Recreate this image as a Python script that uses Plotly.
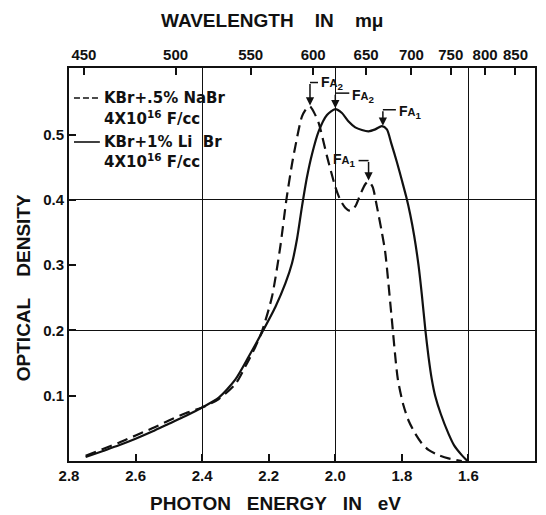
import numpy as np
import plotly.graph_objects as go

# ---------------- data ----------------
# KBr + 1% LiBr (solid)
E_SOLID = [2.75, 2.70, 2.65, 2.60, 2.55, 2.50, 2.45, 2.40, 2.35, 2.30, 2.26, 2.22,
           2.18, 2.15, 2.13, 2.115, 2.10, 2.085, 2.07, 2.05, 2.025, 2.00, 1.98, 1.96,
           1.94, 1.92, 1.90, 1.88, 1.86, 1.845, 1.832, 1.815, 1.80, 1.787, 1.775, 1.763,
           1.75, 1.74, 1.729, 1.72, 1.71, 1.70, 1.683, 1.66, 1.643, 1.62, 1.603]
OD_SOLID = [0.006, 0.015, 0.024, 0.034, 0.045, 0.057, 0.069, 0.082, 0.097, 0.125, 0.160, 0.197,
            0.236, 0.272, 0.303, 0.340, 0.390, 0.435, 0.470, 0.505, 0.530, 0.539, 0.533, 0.520,
            0.511, 0.507, 0.505, 0.508, 0.513, 0.508, 0.487, 0.458, 0.430, 0.405, 0.378, 0.345,
            0.300, 0.255, 0.199, 0.160, 0.125, 0.100, 0.072, 0.042, 0.024, 0.009, 0.0]

# KBr + .5% NaBr (dashed)
E_DASH = [2.75, 2.70, 2.65, 2.60, 2.55, 2.50, 2.45, 2.40, 2.35, 2.30, 2.27, 2.24, 2.22,
          2.19, 2.165, 2.147, 2.13, 2.12, 2.10, 2.085, 2.076, 2.065, 2.05, 2.025, 2.00,
          1.985, 1.97, 1.955, 1.94, 1.925, 1.91, 1.90, 1.888, 1.875, 1.86, 1.85, 1.832,
          1.812, 1.795, 1.78, 1.76, 1.74, 1.72, 1.69, 1.66, 1.62]
OD_DASH = [0.008, 0.018, 0.028, 0.039, 0.050, 0.062, 0.073, 0.082, 0.095, 0.118, 0.145, 0.175, 0.199,
           0.252, 0.329, 0.400, 0.455, 0.482, 0.528, 0.541, 0.543, 0.535, 0.518, 0.467, 0.420,
           0.400, 0.388, 0.383, 0.390, 0.408, 0.424, 0.428, 0.420, 0.390, 0.350, 0.320, 0.227,
           0.125, 0.085, 0.062, 0.042, 0.027, 0.017, 0.009, 0.004, 0.0]

# axes
E_RANGE = [2.8, 1.4]
E_TICKS = [2.8, 2.6, 2.4, 2.2, 2.0, 1.8, 1.6, 1.4]
E_LABELS = ["2.8", "2.6", "2.4", "2.2", "2.0", "1.8", "1.6", "1.4"]
GRID_E = [2.4, 2.0, 1.6]
OD_RANGE = [0, 0.602]
OD_TICKS = [0.1, 0.2, 0.3, 0.4, 0.5]
OD_LABELS = ["0.1", "0.2", "0.3", "0.4", "0.5"]
GRID_OD = [0.2, 0.4]
WAVELENGTHS = [450, 500, 550, 600, 650, 700, 750, 800, 850]
WL_LABELS = [str(w) for w in WAVELENGTHS]
HC = 1239.84  # eV*nm

# FA band markers: (series, energy, subscript, arm px, rise px, text vertical offset px)
FA_MARKS = [
    ("dash", 2.076, "2", 8, 24, 0),
    ("solid", 2.00, "2", 14, 16, -3),
    ("solid", 1.857, "1", 13, 17, -2),
    ("dash", 1.90, "1", -10, 21, 1),
]

FONT = "Liberation Sans"
LFONT = "DejaVu Sans"
BLACK = "#111111"

fig = go.Figure()
fig.add_trace(go.Scatter(x=E_DASH, y=OD_DASH, mode="lines",
                         line=dict(color=BLACK, width=2.2, dash="11px,6px", shape="spline", smoothing=0.7),
                         showlegend=False, hoverinfo="skip"))
fig.add_trace(go.Scatter(x=E_SOLID, y=OD_SOLID, mode="lines",
                         line=dict(color=BLACK, width=2.2, shape="spline", smoothing=0.7),
                         showlegend=False, hoverinfo="skip"))
# dummy traces to instantiate overlay axes
fig.add_trace(go.Scatter(x=[None], y=[None], xaxis="x2", yaxis="y", showlegend=False, hoverinfo="skip"))
fig.add_trace(go.Scatter(x=[None], y=[None], xaxis="x3", yaxis="y2", showlegend=False, hoverinfo="skip"))

tickfont = dict(family=FONT, size=15, color=BLACK, weight="bold")

fig.update_layout(
    width=546, height=515, autosize=False,
    margin=dict(l=69, r=9, t=68, b=54),
    paper_bgcolor="white", plot_bgcolor="white",
    xaxis=dict(range=E_RANGE, tickvals=E_TICKS, ticktext=E_LABELS, ticks="inside", ticklen=7,
               tickwidth=1.5, tickcolor=BLACK, showline=True, linewidth=1.8, linecolor=BLACK,
               showgrid=False, zeroline=False, tickfont=tickfont, fixedrange=True),
    xaxis2=dict(range=E_RANGE, overlaying="x", side="top", anchor="y",
                tickvals=[HC / w for w in WAVELENGTHS], ticktext=WL_LABELS,
                ticks="inside", ticklen=7, tickwidth=1.5, tickcolor=BLACK,
                showline=True, linewidth=1.8, linecolor=BLACK, showgrid=False, zeroline=False,
                tickfont=tickfont, fixedrange=True),
    xaxis3=dict(range=E_RANGE, overlaying="x", anchor="y2", tickvals=GRID_E, showgrid=True,
                gridcolor=BLACK, gridwidth=1.2, showticklabels=False, ticks="", showline=False,
                zeroline=False, fixedrange=True),
    yaxis=dict(range=OD_RANGE, tickvals=OD_TICKS, ticktext=OD_LABELS, ticks="inside", ticklen=7,
               tickwidth=1.5, tickcolor=BLACK, showline=True, mirror=True, linewidth=1.8,
               linecolor=BLACK, showgrid=False, zeroline=False, tickfont=tickfont, fixedrange=True),
    yaxis2=dict(range=OD_RANGE, overlaying="y", anchor="x3", tickvals=GRID_OD, showgrid=True,
                gridcolor=BLACK, gridwidth=1.2, showticklabels=False, ticks="", showline=False,
                zeroline=False, fixedrange=True),
)

annotations = []
shapes = []

# FA markers
series = {"dash": (E_DASH, OD_DASH), "solid": (E_SOLID, OD_SOLID)}
for name, e, sub, arm, rise, dy in FA_MARKS:
    ex, oy = series[name]
    od = float(np.interp(e, ex[::-1], oy[::-1]))
    annotations.append(dict(x=e, y=od, xref="x", yref="y", ax=0, ay=-rise, text="",
                            showarrow=True, arrowhead=2, arrowsize=1.1, arrowwidth=1.5,
                            arrowcolor=BLACK, standoff=1))
    shapes.append(dict(type="line", xref="x", yref="y", xsizemode="pixel", ysizemode="pixel",
                       xanchor=e, yanchor=od, x0=0, x1=arm, y0=rise, y1=rise,
                       line=dict(color=BLACK, width=1.5)))
    annotations.append(dict(x=e, y=od, xref="x", yref="y", showarrow=False,
                            xanchor="left" if arm > 0 else "right", yanchor="middle",
                            xshift=arm + (1 if arm > 0 else -1), yshift=rise + dy,
                            text="F<span style='font-size:11px'>A</span><sub>" + sub + "</sub>",
                            font=dict(family=FONT, size=14, color=BLACK, weight="bold")))

# legend (drawn manually)
def px2paper_x(px):
    return (px - 69) / 468.0

def py2paper_y(py):
    return (461.0 - py) / 393.0

legfont = dict(family=LFONT, size=15, color=BLACK, weight="bold")
shapes.append(dict(type="line", xref="paper", yref="paper", x0=px2paper_x(74), x1=px2paper_x(100),
                   y0=py2paper_y(98), y1=py2paper_y(98), line=dict(color=BLACK, width=1.6, dash="6px,3px")))
shapes.append(dict(type="line", xref="paper", yref="paper", x0=px2paper_x(74), x1=px2paper_x(100),
                   y0=py2paper_y(142), y1=py2paper_y(142), line=dict(color=BLACK, width=1.6)))
for py, txt in [(98, "KBr+.5% NaBr"), (118, "4X10<sup>16</sup> F/cc"),
                (142, "KBr+1% Li\u00a0\u00a0Br"), (161, "4X10<sup>16</sup> F/cc")]:
    annotations.append(dict(x=px2paper_x(102), y=py2paper_y(py), xref="paper", yref="paper",
                            xanchor="left", yanchor="middle", showarrow=False, text=txt, font=legfont))

# axis titles
sp = "\u00a0\u00a0\u00a0\u00a0"
annotations.append(dict(x=px2paper_x(273), y=py2paper_y(21), xref="paper", yref="paper",
                        xanchor="center", yanchor="middle",
                        showarrow=False, text="WAVELENGTH" + sp + "IN" + sp + "m\u03bc",
                        font=dict(family=FONT, size=19, color=BLACK, weight="bold")))
annotations.append(dict(x=px2paper_x(276), y=py2paper_y(504), xref="paper", yref="paper",
                        xanchor="center", yanchor="middle",
                        showarrow=False, text="PHOTON\u00a0\u00a0\u00a0ENERGY\u00a0\u00a0\u00a0IN\u00a0\u00a0\u00a0eV",
                        font=dict(family=FONT, size=19, color=BLACK, weight="bold")))
annotations.append(dict(x=px2paper_x(23), y=py2paper_y(288), xref="paper", yref="paper",
                        xanchor="center", yanchor="middle",
                        showarrow=False, textangle=-90, text="OPTICAL\u00a0\u00a0\u00a0\u00a0DENSITY",
                        font=dict(family=FONT, size=19, color=BLACK, weight="bold")))

fig.update_layout(annotations=annotations, shapes=shapes)
fig.write_html("out.html")
